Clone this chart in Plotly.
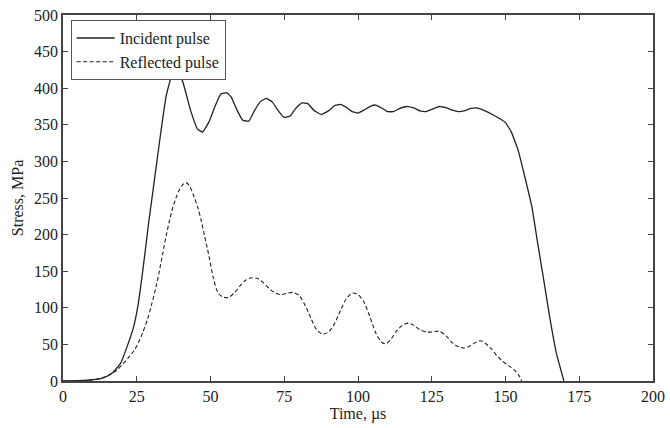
import plotly.graph_objects as go

# Incident pulse (time in µs, stress in MPa)
incident_t = [0, 5, 8, 10, 12.5, 15, 17, 19.5, 22, 24, 25.5, 26.7, 27.8, 29, 30.5, 32, 33.5, 35, 36.5, 37.8, 38.8,
              40.5, 43.3, 45.6, 47.3, 49.5, 51.5, 53.5, 55.5, 57, 59, 61, 63, 65, 67, 69, 71, 73, 75, 77, 79, 81,
              83, 85, 87.5, 90, 92, 94, 96, 98, 100, 102, 104.5, 106, 108, 110, 112, 114, 116.5, 119, 121, 123, 125,
              127.5, 130, 132, 134, 136, 138, 140.2, 142.5, 146, 150, 152, 154.3, 156.6, 159, 160.6, 162.8, 165,
              167.3, 169.8]
incident_s = [0, 0.5, 1, 1.8, 3, 6.5, 12, 24, 50, 75, 105, 140, 175, 215, 260, 305, 350, 390, 413, 422, 420,
              410, 369, 344, 340, 354, 375, 392, 394, 388, 370, 356, 355, 370, 382, 386, 381, 369, 360, 362, 373,
              380, 379, 370, 364, 369, 376, 378, 374, 368, 366, 370, 376, 377, 373, 368, 368, 372, 375, 373, 369,
              368, 371, 375, 373, 370, 368, 369, 372, 373, 370, 363, 353, 340, 315, 278, 237, 196, 142, 87, 37, 0]

# Reflected pulse
reflected_t = [0, 5, 10, 13, 15, 18, 20, 22, 24, 25.5, 27, 28.7, 30, 31.5, 32.7, 33.8, 34.9, 36.1, 37.2, 38.3,
               39.4, 40.5, 41.7, 42.8, 44.5, 45.7, 46.8, 48, 49.5, 51, 52.5, 54, 56, 58, 60, 62, 64, 66, 68, 70, 72,
               74, 76, 78, 80, 82, 84, 86, 88, 90, 92, 94, 96, 98, 100, 102, 104, 106, 108, 109.5, 111, 113, 115, 117,
               119, 121, 123, 125.5, 127.5, 130, 132, 134, 136, 138, 140, 141.5, 143, 145, 147, 149, 151, 153, 154.5,
               155.5]
reflected_s = [0, 0.2, 1.5, 4, 7, 14, 22, 31, 41, 52, 66, 85, 104, 128, 151, 174, 197, 219, 237, 250,
               261, 268, 271, 267, 251, 237, 220, 198, 170, 140, 121, 115, 114, 120, 130, 138, 141, 140, 134, 126, 120,
               118, 120, 121, 117, 104, 86, 70, 64, 67, 78, 96, 112, 120, 118, 108, 88, 66, 53, 51, 56, 68, 76, 79,
               76, 70, 67, 67, 68, 61, 52, 47, 45, 48, 53, 55, 52, 45, 35, 27, 21, 15, 8, 0]

x_ticks = [0, 25, 50, 75, 100, 125, 150, 175, 200]
y_ticks = [0, 50, 100, 150, 200, 250, 300, 350, 400, 450, 500]

FONT = "Liberation Serif"
INK = "#222222"
FS = 16

fig = go.Figure()
fig.add_trace(go.Scatter(x=incident_t, y=incident_s, mode="lines", name="Incident pulse",
                         line=dict(color=INK, width=1.3, shape="spline", smoothing=0.3)))
fig.add_trace(go.Scatter(x=reflected_t, y=reflected_s, mode="lines", name="Reflected pulse",
                         line=dict(color=INK, width=1.1, dash="4px,2.5px", shape="spline", smoothing=0.8)))

axis_common = dict(showline=True, linecolor="#444444", linewidth=1.5, mirror="ticks", ticks="inside",
                   ticklen=5, tickcolor="#444444", tickwidth=1.2, showgrid=False, zeroline=False,
                   automargin=False, tickfont=dict(family=FONT, size=FS, color=INK))

fig.update_layout(
    width=670, height=428,
    margin=dict(l=63, r=17, t=15, b=47),
    paper_bgcolor="white", plot_bgcolor="white",
    font=dict(family=FONT, size=FS, color=INK),
    xaxis=dict(range=[0, 200], tickvals=x_ticks, title=dict(text="Time, µs", standoff=2,
               font=dict(family=FONT, size=FS, color=INK)), **axis_common),
    yaxis=dict(range=[0, 500], tickvals=y_ticks, title=dict(text="Stress, MPa", standoff=6,
               font=dict(family=FONT, size=FS, color=INK)), **axis_common),
    legend=dict(x=0.013, y=0.986, xanchor="left", yanchor="top", bgcolor="white",
                bordercolor="#555555", borderwidth=1, font=dict(family=FONT, size=FS, color=INK),
                itemwidth=38, tracegroupgap=0),
    showlegend=True,
)

fig.write_html("out.html", config={"displayModeBar": False},
               post_script="document.body.style.margin='0px';")
